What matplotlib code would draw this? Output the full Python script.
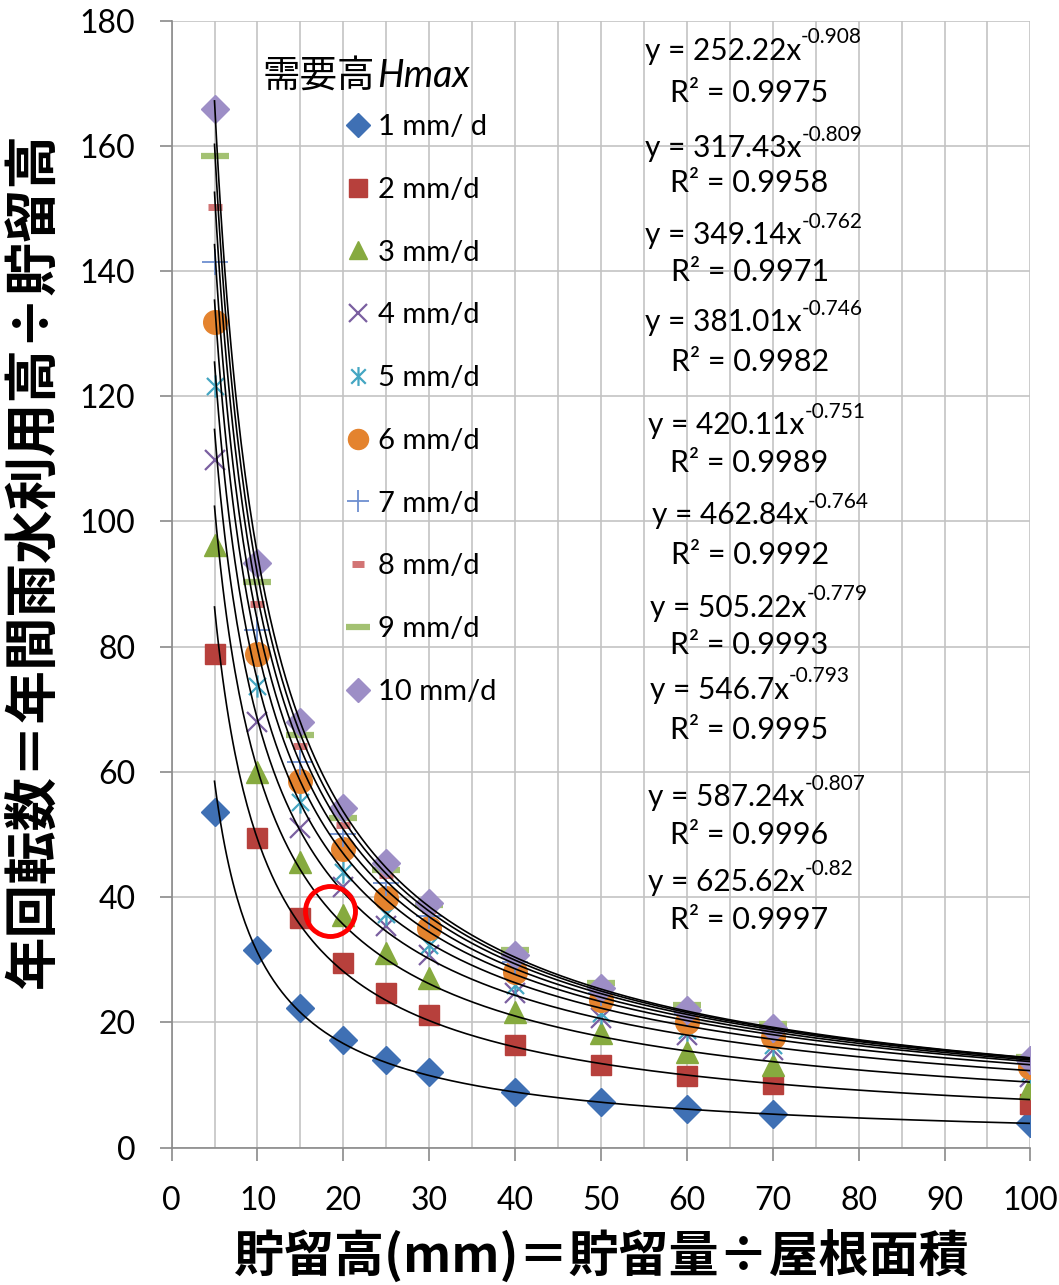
import matplotlib
matplotlib.use("Agg")
import matplotlib.pyplot as plt
import numpy as np
from matplotlib.path import Path
from matplotlib.ticker import MultipleLocator

plt.rcParams['font.family'] = ['Lato', 'Noto Sans CJK JP', 'DejaVu Sans']

# storage height (mm)
storage = [5, 10, 15, 20, 25, 30, 40, 50, 60, 70, 100]

# annual turnover for each demand height (mm/d)
d1 = [53.6, 31.6, 22.3, 17.2, 14.0, 12.0, 8.9, 7.3, 6.1, 5.3, 3.9]
d2 = [78.8, 49.5, 36.7, 29.5, 24.7, 21.1, 16.4, 13.2, 11.5, 10.1, 6.9]
d3 = [96.2, 60.0, 45.6, 37.2, 31.1, 27.1, 21.7, 18.3, 15.3, 13.2, 9.5]
d4 = [109.8, 68.0, 51.0, 41.6, 35.4, 30.8, 24.7, 20.7, 18.0, 15.6, 11.2]
d5 = [121.6, 73.7, 55.2, 44.0, 37.3, 32.4, 26.0, 21.5, 18.8, 16.4, 12.0]
d6 = [131.8, 78.8, 58.6, 47.6, 39.9, 35.1, 28.1, 23.6, 20.1, 17.6, 12.9]
d7 = [141.4, 82.7, 61.6, 50.0, 42.3, 37.0, 29.7, 24.7, 21.5, 18.8, 13.7]
d8 = [150.3, 86.8, 64.1, 51.5, 43.6, 38.0, 30.8, 25.5, 22.3, 19.5, 14.2]
d9 = [158.3, 90.3, 65.9, 52.7, 44.4, 38.8, 31.6, 26.2, 22.8, 19.8, 14.4]
d10 = [165.8, 93.3, 68.0, 54.3, 45.5, 39.1, 30.8, 25.5, 22.0, 19.1, 14.0]
series = [d1, d2, d3, d4, d5, d6, d7, d8, d9, d10]
labels = ['1 mm/ d', '2 mm/d', '3 mm/d', '4 mm/d', '5 mm/d', '6 mm/d',
          '7 mm/d', '8 mm/d', '9 mm/d', '10 mm/d']

# power trendline coefficients shown on the chart (y = a * x^b)
coef_a = [252.22, 317.43, 349.14, 381.01, 420.11, 462.84, 505.22, 546.7, 587.24, 625.62]
coef_b = [-0.908, -0.809, -0.762, -0.746, -0.751, -0.764, -0.779, -0.793, -0.807, -0.82]
coef_a_txt = ['252.22', '317.43', '349.14', '381.01', '420.11', '462.84', '505.22', '546.7', '587.24', '625.62']
coef_b_txt = ['-0.908', '-0.809', '-0.762', '-0.746', '-0.751', '-0.764', '-0.779', '-0.793', '-0.807', '-0.82']
r2_txt = ['0.9975', '0.9958', '0.9971', '0.9982', '0.9989', '0.9992', '0.9993', '0.9995', '0.9996', '0.9997']

# label layout (data coords)
eq_x = [55.1, 55.1, 55.1, 55.1, 55.5, 55.9, 55.7, 55.7, 55.5, 55.5]
eq_y = [175.2, 159.6, 145.7, 131.8, 115.4, 101.0, 86.2, 73.1, 56.0, 42.4]
r2_y = [168.5, 154.0, 139.8, 125.4, 109.3, 94.6, 80.3, 66.7, 49.9, 36.4]

asterisk = Path([(-1, -1), (1, 1), (-1, 1), (1, -1), (0, -1.3), (0, 1.3)],
                [Path.MOVETO, Path.LINETO, Path.MOVETO, Path.LINETO, Path.MOVETO, Path.LINETO])

styles = [
    dict(marker='D', ms=14, color='#3f70b4'),
    dict(marker='s', ms=15, color='#b7403c'),
    dict(marker='^', ms=16, color='#86aa3f'),
    dict(marker='x', ms=15, color='#7a5fa0', mew=1.6),
    dict(marker=asterisk, ms=16, color='#44a6c2', mew=1.6),
    dict(marker='o', ms=17, color='#e4832e'),
    dict(marker='+', ms=19, color='#6d8fd0', mew=1.3),
    dict(marker='_', ms=10, color='#d27474', mew=5),
    dict(marker='_', ms=20, color='#a3c172', mew=4.5),
    dict(marker='D', ms=14, color='#9d8ec6'),
]

fig = plt.figure(figsize=(10.59, 12.85), dpi=100)
ax = fig.add_axes([0.162, 0.107, 0.811, 0.877])

for ys, lab, st in zip(series, labels, styles):
    ax.plot(storage, ys, linestyle='none', label=lab, zorder=3, **st)

xs = np.linspace(5, 100, 400)
for a, b in zip(coef_a, coef_b):
    ax.plot(xs, a * xs ** b, color='black', lw=1.2, zorder=4)

for i in range(10):
    t = ax.text(eq_x[i], eq_y[i], 'y = ' + coef_a_txt[i] + 'x', fontsize=21.5,
                ha='left', va='center', zorder=5)
    ax.annotate(coef_b_txt[i], xy=(1, 0.62), xycoords=t, fontsize=15,
                ha='left', va='bottom', zorder=5)
    ax.text(67.3, r2_y[i], 'R² = ' + r2_txt[i], fontsize=22,
            ha='center', va='center', zorder=5)

# red highlight circle
ax.plot([18.4], [37.8], marker='o', ms=36, mfc='none', mec='#ff0000', mew=3.5, zorder=6)

ax.set_xlim(0, 100)
ax.set_ylim(0, 180)
ax.xaxis.set_major_locator(MultipleLocator(10))
ax.xaxis.set_minor_locator(MultipleLocator(5))
ax.yaxis.set_major_locator(MultipleLocator(20))
ax.grid(True, which='major', color='#c3c3c3', lw=1.2, zorder=0)
ax.grid(True, which='minor', axis='x', color='#c3c3c3', lw=1.2, zorder=0)
ax.set_axisbelow(True)
for s in ['top', 'right']:
    ax.spines[s].set_visible(False)
for s in ['left', 'bottom']:
    ax.spines[s].set_color('#8a8a8a')
    ax.spines[s].set_linewidth(1.2)
ax.tick_params(which='major', length=9, width=1.2, color='#8a8a8a', labelsize=23)
ax.tick_params(axis='x', which='major', pad=19)
ax.tick_params(axis='y', which='major', pad=17)
ax.tick_params(which='minor', length=0)

ax.set_xlabel('貯留高(mm)＝貯留量÷屋根面積', fontsize=36, fontweight='bold',
              family=['Noto Sans CJK JP'], labelpad=10)
ax.set_ylabel('年回転数＝年間雨水利用高÷貯留高', fontsize=38.5, fontweight='bold',
              family=['Noto Sans CJK JP'])
ax.yaxis.set_label_coords(-0.128, 0.52)

# legend title
tt = ax.text(10.6, 171.2, '需要高', fontsize=27, ha='left', va='center')
ax.annotate('Hmax', xy=(1.02, 0.5), xycoords=tt, fontsize=27, style='italic',
            ha='left', va='center')

ax.legend(loc='upper left', bbox_to_anchor=(0.183, 0.93), frameon=False, fontsize=21,
          handlelength=1.0, handletextpad=0.2, labelspacing=1.26, borderpad=0,
          markerscale=0.85)

fig.savefig('out.png', dpi=100)
